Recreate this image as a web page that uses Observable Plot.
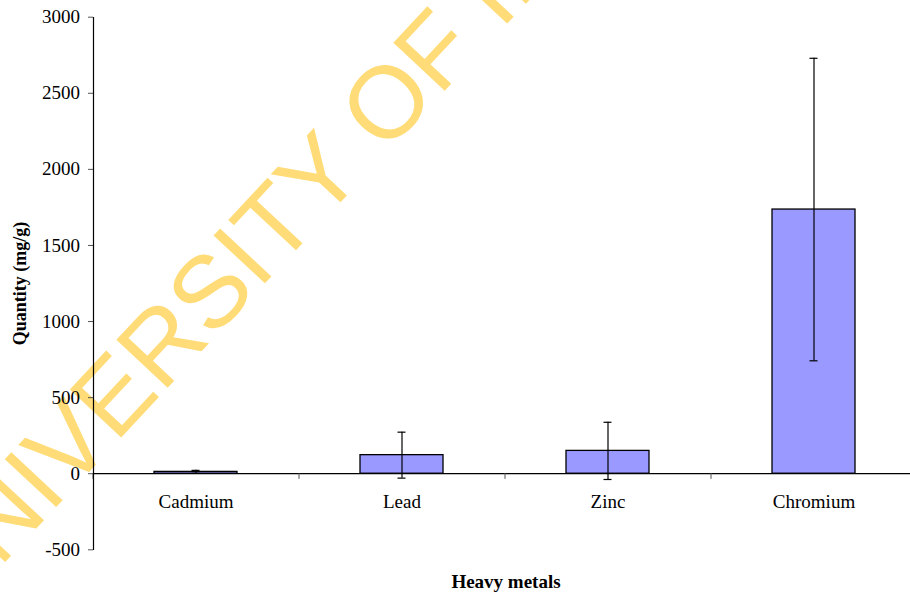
<!DOCTYPE html>
<html>
<head>
<meta charset="utf-8">
<script src="https://cdn.jsdelivr.net/npm/d3@7"></script>
<script src="https://cdn.jsdelivr.net/npm/@observablehq/plot@0.6"></script>
<style>
  html, body { margin: 0; padding: 0; background: #fff; overflow: hidden; }
  #chart svg { display: block; }
</style>
</head>
<body>
<div id="chart"></div>
<script>
const metals = ["Cadmium", "Lead", "Zinc", "Chromium"];
const means = [12, 122, 150, 1736];
const sds = [10, 151, 188, 994];
const yTicks = [-500, 0, 500, 1000, 1500, 2000, 2500, 3000];
const xTitle = "Heavy metals";
const yTitle = "Quantity (mg/g)";
const watermark = ["UNIVERSITY OF IBADAN"];

const data = metals.map((m, i) => ({metal: m, mean: means[i], lo: means[i] - sds[i], hi: means[i] + sds[i]}));

const font = "'Liberation Serif', 'Times New Roman', serif";

const chart = Plot.plot({
  width: 910,
  height: 596,
  marginTop: 17,
  marginBottom: 47,
  marginLeft: 93,
  marginRight: 0,
  style: {fontFamily: font, fontSize: "19px", color: "#000", background: "#fff"},
  x: {domain: metals, range: [93, 917], paddingInner: 0.597, paddingOuter: 0.2985, axis: null},
  y: {domain: [-500, 3000], range: [549.3, 16.7], axis: null},
  marks: [
    Plot.text(watermark, {
      frameAnchor: "top-left", dx: -168, dy: 582, rotate: -47,
      textAnchor: "start", lineAnchor: "middle",
      fontFamily: "'Liberation Sans', Arial, sans-serif", fontSize: 102,
      fill: "#ffdc78"
    }),
    Plot.axisY({ticks: yTicks, tickSize: 5, tickPadding: 8.5, tickFormat: d => String(d), fontSize: 19, stroke: "#555", label: null}),
    Plot.barY(data, {x: "metal", y: "mean", fill: "#9999ff", stroke: "#000", strokeWidth: 1.3}),
    Plot.ruleY([0], {stroke: "#000", strokeWidth: 1.2}),
    Plot.ruleX(metals, {x: d => d, dx: -103, y1: 0, y2: -37, stroke: "#555", strokeWidth: 1}),
    Plot.frame({anchor: "left", stroke: "#000", strokeWidth: 1.2}),
    Plot.ruleX(data, {x: "metal", y1: "lo", y2: "hi", stroke: "#000", strokeWidth: 1.2}),
    Plot.tickY(data, {x: "metal", y: "hi", stroke: "#000", strokeWidth: 1.2, insetLeft: 37.5, insetRight: 37.5}),
    Plot.tickY(data, {x: "metal", y: "lo", stroke: "#000", strokeWidth: 1.2, insetLeft: 37.5, insetRight: 37.5}),
    Plot.text(metals, {x: d => d, y: 0, dy: 28, fontSize: 19, fill: "#000", lineAnchor: "middle"}),
    Plot.text([xTitle], {frameAnchor: "bottom", dx: 4, dy: 32, fontSize: 19, fontWeight: "bold", fill: "#000", lineAnchor: "middle"}),
    Plot.text([yTitle], {frameAnchor: "left", dx: -73, rotate: -90, textAnchor: "middle", fontSize: 18, fontWeight: "bold", fill: "#000", lineAnchor: "middle"})
  ]
});
document.getElementById("chart").appendChild(chart);
</script>
</body>
</html>
